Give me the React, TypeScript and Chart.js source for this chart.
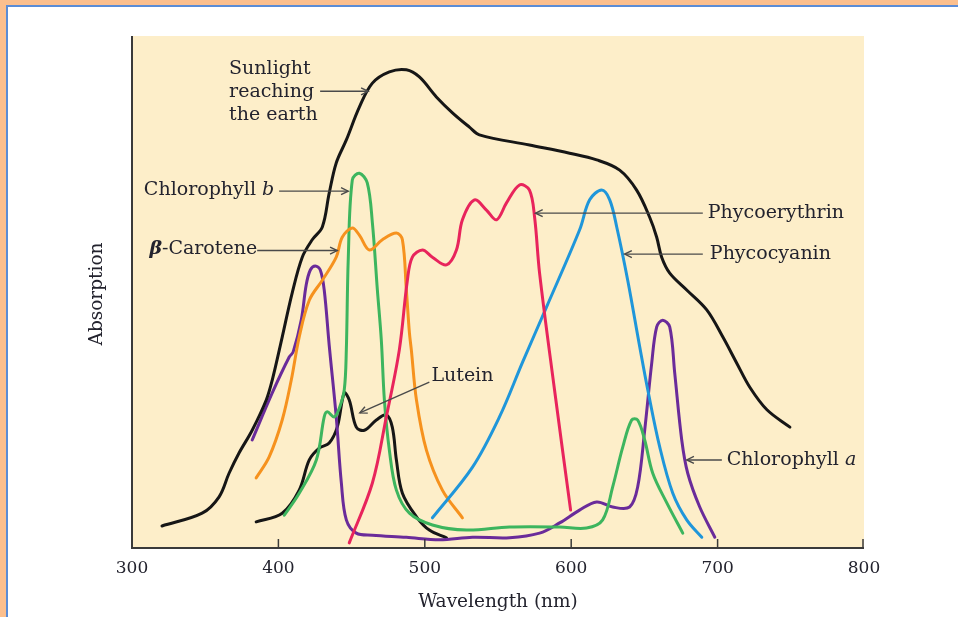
import React, { useEffect, useRef } from "react";
import { Chart, registerables } from "chart.js";

Chart.register(...registerables);

// Absorption spectra (arbitrary units, 0–100) against wavelength in nm
const sunlightNm = [320.5, 347.9, 359.5, 366.3, 373.2, 382.1, 391.7, 395.8, 402.6, 409.4, 416.3, 423.1, 430.0, 434.7, 439.5, 446.4, 455.3, 464.2, 475.8, 487.4, 496.3, 507.9, 518.9, 530.5, 537.3, 571.5, 598.9, 617.4, 633.1, 644.7, 653.6, 658.4, 661.8, 667.3, 678.9, 692.6, 703.6, 713.1, 722.0, 733.7, 749.4];
const sunlightAbs = [4.3, 6.8, 10.0, 14.6, 18.6, 23.0, 28.9, 32.8, 41.2, 49.8, 56.8, 60.2, 62.7, 69.3, 75.2, 79.7, 86.1, 90.8, 93.0, 93.4, 92.0, 88.1, 85.0, 82.2, 80.7, 78.7, 77.1, 75.8, 73.8, 69.9, 64.6, 60.7, 56.8, 53.7, 50.4, 46.5, 41.2, 36.1, 31.4, 27.0, 23.6];

const chlBNm = [404.0, 414.2, 425.9, 431.3, 433.4, 438.2, 441.6, 445.0, 446.4, 447.7, 450.5, 455.3, 460.7, 464.2, 467.6, 470.3, 472.4, 475.8, 480.6, 489.5, 505.2, 528.5, 557.9, 592.1, 610.5, 621.5, 628.3, 635.2, 641.3, 645.4, 650.2, 655.7, 665.3, 676.2];
const chlBAbs = [6.4, 10.7, 17.2, 25.6, 26.6, 25.6, 27.3, 30.9, 38.7, 56.3, 71.9, 73.2, 71.3, 63.5, 50.4, 40.6, 28.9, 19.1, 11.3, 6.8, 4.5, 3.5, 4.1, 4.1, 3.9, 5.5, 11.9, 19.7, 25.0, 25.0, 21.1, 14.6, 8.8, 2.9];

const caroteneNm = [384.8, 393.7, 402.6, 408.8, 414.2, 421.1, 430.0, 439.5, 443.6, 450.5, 455.3, 462.1, 471.0, 480.6, 484.7, 487.4, 489.5, 490.8, 494.3, 501.1, 512.0, 525.7];
const caroteneAbs = [13.7, 17.8, 25.0, 32.8, 41.2, 48.4, 52.3, 56.8, 60.7, 62.5, 61.1, 58.2, 60.2, 61.5, 60.2, 50.4, 42.0, 38.7, 28.9, 19.1, 11.3, 5.9];

const chlANm = [382.1, 395.8, 407.4, 410.1, 415.6, 419.0, 421.8, 425.2, 428.6, 431.3, 434.7, 439.5, 443.0, 446.4, 453.2, 464.2, 487.4, 510.0, 532.6, 557.9, 578.4, 592.1, 605.7, 617.4, 628.3, 639.9, 645.4, 650.2, 655.0, 658.4, 662.5, 667.3, 670.7, 675.5, 679.6, 687.8, 698.1];
const chlAAbs = [21.1, 30.3, 37.3, 38.3, 44.5, 51.4, 54.3, 55.1, 54.3, 50.4, 39.6, 25.6, 12.7, 5.5, 2.9, 2.5, 2.1, 1.6, 2.1, 2.0, 2.9, 4.9, 7.4, 9.0, 8.0, 8.0, 11.9, 23.0, 36.1, 43.2, 44.5, 43.2, 34.2, 21.1, 14.6, 8.0, 2.1];

const luteinNm = [384.8, 402.6, 414.2, 421.1, 427.9, 434.7, 440.2, 445.0, 448.4, 453.2, 458.7, 466.9, 473.7, 477.8, 480.6, 484.7, 494.3, 503.1, 514.8];
const luteinAbs = [5.1, 6.8, 11.3, 17.2, 19.5, 20.5, 23.6, 30.3, 28.9, 23.6, 23.0, 25.0, 26.0, 23.6, 17.2, 10.7, 6.1, 3.5, 2.0];

const phycoerythrinNm = [448.4, 464.2, 473.7, 482.6, 488.1, 491.5, 498.4, 505.2, 514.8, 521.6, 525.7, 533.9, 542.1, 549.0, 555.8, 564.7, 571.5, 575.0, 578.4, 588.6, 599.6];
const phycoerythrinAbs = [1.0, 12.7, 25.6, 38.7, 52.3, 56.8, 58.2, 56.8, 55.3, 58.2, 64.1, 68.0, 66.0, 64.1, 67.4, 70.9, 69.9, 64.6, 53.7, 30.9, 7.4];

const phycocyaninNm = [505.2, 532.6, 551.0, 566.8, 583.2, 605.7, 612.6, 620.8, 626.3, 631.1, 638.6, 646.8, 652.3, 660.5, 669.4, 678.9, 689.2];
const phycocyaninAbs = [5.9, 15.8, 25.6, 36.3, 47.1, 62.1, 68.0, 69.9, 68.0, 62.7, 52.3, 39.3, 30.9, 19.7, 10.7, 5.5, 2.1];

const xTicks = [300, 400, 500, 600, 700, 800];

const FONT = "'DejaVu Serif', serif";
const TEXT_COLOR = "#23232e";
const ARROW_COLOR = "#4a4a4a";
const AXIS_COLOR = "#3a3a3a";
const PLOT_BG = "#fdeec9";

const pts = (xs: number[], ys: number[]) => xs.map((x, i) => ({ x, y: ys[i] }));

type Seg = { text: string; style?: string };
type Note = {
  lines: Seg[][];
  x: number;
  y: number;
  align: "left" | "right";
  arrow?: { from: [number, number]; to: [number, number] };
};

// Labels with pointer arrows, positioned in data units (nm, absorption)
const notes: Note[] = [
  {
    lines: [[{ text: "Sunlight" }], [{ text: "reaching" }], [{ text: "the earth" }]],
    x: 366.3,
    y: 93.6,
    align: "left",
    arrow: { from: [428.5, 89.2], to: [461.4, 89.2] },
  },
  {
    lines: [[{ text: "Chlorophyll " }, { text: "b", style: "italic " }]],
    x: 397.1,
    y: 69.9,
    align: "right",
    arrow: { from: [400.5, 69.7], to: [447.7, 69.7] },
  },
  {
    lines: [[{ text: "β", style: "italic bold " }, { text: "-Carotene" }]],
    x: 385.5,
    y: 58.4,
    align: "right",
    arrow: { from: [385.5, 58.1], to: [440.2, 58.1] },
  },
  {
    lines: [[{ text: "Lutein" }]],
    x: 504.5,
    y: 33.6,
    align: "left",
    arrow: { from: [503.1, 32.4], to: [455.6, 26.4] },
  },
  {
    lines: [[{ text: "Phycoerythrin" }]],
    x: 693.3,
    y: 65.4,
    align: "left",
    arrow: { from: [689.9, 65.4], to: [575.6, 65.4] },
  },
  {
    lines: [[{ text: "Phycocyanin" }]],
    x: 694.7,
    y: 57.4,
    align: "left",
    arrow: { from: [689.9, 57.4], to: [636.5, 57.4] },
  },
  {
    lines: [[{ text: "Chlorophyll " }, { text: "a", style: "italic " }]],
    x: 706.3,
    y: 17.2,
    align: "left",
    arrow: { from: [702.9, 17.2], to: [678.9, 17.2] },
  },
];

const NOTE_SIZE = 19;
const TITLE_SIZE = 18.5;
const TICK_SIZE = 17;
const LINE_GAP = 23;

const overlayPlugin = {
  id: "overlay",
  beforeDraw(chart: any) {
    const { ctx, chartArea: a } = chart;
    ctx.save();
    ctx.fillStyle = PLOT_BG;
    ctx.fillRect(a.left, a.top, a.right - a.left, a.bottom - a.top);
    ctx.restore();
  },
  afterDraw(chart: any) {
    const { ctx, chartArea: a, scales } = chart;
    const xs = scales.x;
    const ys = scales.y;
    ctx.save();

    // axes: left and bottom frame with inward ticks
    ctx.strokeStyle = AXIS_COLOR;
    ctx.lineWidth = 2;
    ctx.beginPath();
    ctx.moveTo(a.left, a.top);
    ctx.lineTo(a.left, a.bottom);
    ctx.lineTo(a.right, a.bottom);
    ctx.stroke();
    ctx.lineWidth = 1.5;
    xTicks.slice(1).forEach((t) => {
      const px = Math.min(xs.getPixelForValue(t), a.right - 1);
      ctx.beginPath();
      ctx.moveTo(px, a.bottom);
      ctx.lineTo(px, a.bottom - 9);
      ctx.stroke();
    });

    // y-axis title
    ctx.fillStyle = TEXT_COLOR;
    ctx.font = `${TITLE_SIZE}px ${FONT}`;
    ctx.textAlign = "center";
    ctx.textBaseline = "middle";
    ctx.translate(a.left - 35, (a.top + a.bottom) / 2 + 2);
    ctx.rotate(-Math.PI / 2);
    ctx.fillText("Absorption", 0, 0);
    ctx.setTransform(1, 0, 0, 1, 0, 0);

    // labels and pointer arrows
    notes.forEach((n) => {
      if (n.arrow) {
        const x1 = xs.getPixelForValue(n.arrow.from[0]);
        const y1 = ys.getPixelForValue(n.arrow.from[1]);
        const x2 = xs.getPixelForValue(n.arrow.to[0]);
        const y2 = ys.getPixelForValue(n.arrow.to[1]);
        ctx.strokeStyle = ARROW_COLOR;
        ctx.lineWidth = 1.4;
        ctx.beginPath();
        ctx.moveTo(x1, y1);
        ctx.lineTo(x2, y2);
        ctx.stroke();
        const ang = Math.atan2(y2 - y1, x2 - x1);
        const h = 8;
        ctx.beginPath();
        ctx.moveTo(x2 - h * Math.cos(ang - 0.45), y2 - h * Math.sin(ang - 0.45));
        ctx.lineTo(x2, y2);
        ctx.lineTo(x2 - h * Math.cos(ang + 0.45), y2 - h * Math.sin(ang + 0.45));
        ctx.stroke();
      }
      ctx.fillStyle = TEXT_COLOR;
      ctx.textAlign = "left";
      ctx.textBaseline = "middle";
      const baseX = xs.getPixelForValue(n.x);
      const baseY = ys.getPixelForValue(n.y);
      n.lines.forEach((line, li) => {
        const widths = line.map((s) => {
          ctx.font = `${s.style || ""}${NOTE_SIZE}px ${FONT}`;
          return ctx.measureText(s.text).width;
        });
        const total = widths.reduce((p, c) => p + c, 0);
        let cx = n.align === "right" ? baseX - total : baseX;
        line.forEach((s, si) => {
          ctx.font = `${s.style || ""}${NOTE_SIZE}px ${FONT}`;
          ctx.fillText(s.text, cx, baseY + li * LINE_GAP);
          cx += widths[si];
        });
      });
    });
    ctx.restore();
  },
};

export default function App() {
  const ref = useRef<HTMLCanvasElement | null>(null);

  useEffect(() => {
    if (!ref.current) return;
    const line = (data: { x: number; y: number }[], color: string) => ({
      data,
      borderColor: color,
      borderWidth: 3,
      pointRadius: 0,
      fill: false,
      showLine: true,
      tension: 0.35,
      borderCapStyle: "round" as const,
      borderJoinStyle: "round" as const,
    });
    const chart = new Chart(ref.current, {
      type: "scatter",
      data: {
        datasets: [
          line(pts(sunlightNm, sunlightAbs), "#161616"),
          line(pts(phycoerythrinNm, phycoerythrinAbs), "#e8245c"),
          line(pts(phycocyaninNm, phycocyaninAbs), "#1f96da"),
          line(pts(caroteneNm, caroteneAbs), "#f6921e"),
          line(pts(chlBNm, chlBAbs), "#3db55e"),
          line(pts(chlANm, chlAAbs), "#6a2b9a"),
          line(pts(luteinNm, luteinAbs), "#161616"),
        ],
      },
      options: {
        responsive: false,
        animation: false,
        events: [],
        layout: { padding: { left: 132, top: 36, right: 94, bottom: 0 } },
        plugins: { legend: { display: false }, tooltip: { enabled: false } },
        scales: {
          x: {
            type: "linear",
            min: 300,
            max: 800,
            afterBuildTicks: (s: any) => {
              s.ticks = xTicks.map((v) => ({ value: v }));
            },
            afterFit: (s: any) => {
              s.height = 69;
            },
            grid: { display: false, drawTicks: false },
            border: { display: false },
            ticks: {
              color: TEXT_COLOR,
              font: { family: FONT, size: TICK_SIZE },
              padding: 10,
              maxRotation: 0,
              autoSkip: false,
            },
            title: {
              display: true,
              text: "Wavelength (nm)",
              color: TEXT_COLOR,
              font: { family: FONT, size: TITLE_SIZE },
              padding: { top: 0, bottom: 4 },
            },
          },
          y: { display: false, min: 0, max: 100 },
        },
      },
      plugins: [overlayPlugin],
    });
    return () => chart.destroy();
  }, []);

  return (
    <div style={{ position: "fixed", left: 0, top: 0, width: 958, height: 617, background: "#fbbf8e", overflow: "hidden" }}>
      <div
        style={{
          position: "absolute",
          left: 6,
          top: 5,
          width: 960,
          height: 620,
          background: "#ffffff",
          borderLeft: "2px solid #5a8cd6",
          borderTop: "2px solid #5a8cd6",
        }}
      />
      <canvas ref={ref} width={958} height={617} style={{ position: "absolute", left: 0, top: 0, display: "block" }} />
    </div>
  );
}
